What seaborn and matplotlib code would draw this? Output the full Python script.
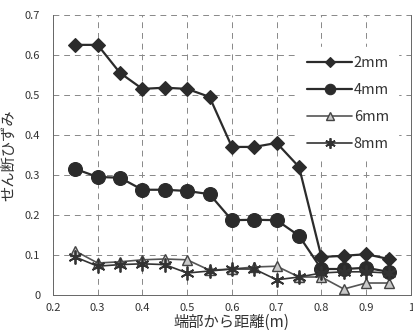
import matplotlib
matplotlib.use("Agg")
import matplotlib.pyplot as plt
import seaborn as sns
import pandas as pd

x = [0.25, 0.3, 0.35, 0.4, 0.45, 0.5, 0.55, 0.6, 0.65, 0.7, 0.75, 0.8, 0.85, 0.9, 0.95]
s2 = [0.625, 0.625, 0.555, 0.515, 0.518, 0.515, 0.495, 0.370, 0.370, 0.380, 0.320, 0.095, 0.098, 0.102, 0.090]
s4 = [0.315, 0.295, 0.293, 0.263, 0.263, 0.260, 0.252, 0.187, 0.188, 0.187, 0.148, 0.065, 0.065, 0.068, 0.058]
s6 = [0.110, 0.080, 0.083, 0.088, 0.090, 0.088, 0.062, 0.065, 0.070, 0.072, 0.045, 0.045, 0.015, 0.030, 0.030]
s8 = [0.095, 0.072, 0.076, 0.078, 0.076, 0.055, 0.060, 0.065, 0.065, 0.038, 0.045, 0.055, 0.058, 0.058, 0.055]
labels = ["2mm", "4mm", "6mm", "8mm"]
xticks = [0.2, 0.3, 0.4, 0.5, 0.6, 0.7, 0.8, 0.9, 1.0]
xticklabels = ["0.2", "0.3", "0.4", "0.5", "0.6", "0.7", "0.8", "0.9", "1"]
yticks = [0, 0.1, 0.2, 0.3, 0.4, 0.5, 0.6, 0.7]
yticklabels = ["0", "0.1", "0.2", "0.3", "0.4", "0.5", "0.6", "0.7"]

sns.set_style("white")
plt.rcParams['font.family'] = ['Liberation Sans Narrow', 'Noto Sans CJK JP', 'DejaVu Sans']

fig = plt.figure(figsize=(4.13, 3.30), dpi=100)
ax = fig.add_axes([0.128, 0.106, 0.867, 0.849])

styles = [
    dict(marker='D', markersize=7, color='#2b2b2b', lw=1.6, mfc='#2b2b2b', mec='#2b2b2b', mew=0.8),
    dict(marker='o', markersize=10, color='#2b2b2b', lw=1.6, mfc='#2b2b2b', mec='#2b2b2b', mew=0.8),
    dict(marker='^', markersize=7, color='#555555', lw=1.2, mfc='#c8c8c8', mec='#444444', mew=1.0),
    dict(marker=(6, 2, 0), markersize=10, color='#333333', lw=1.2, mfc='#333333', mec='#333333', mew=1.3),
]
series = [s2, s4, s6, s8]
for lab, ys, st in zip(labels, series, styles):
    df = pd.DataFrame({"x": x, "y": ys})
    sns.lineplot(data=df, x="x", y="y", ax=ax, label=lab, color=st['color'],
                 linewidth=st['lw'], marker=st['marker'], markersize=st['markersize'],
                 markerfacecolor=st['mfc'], markeredgecolor=st['mec'],
                 markeredgewidth=st['mew'], zorder=3)

ax.set_xlim(0.2, 1.0)
ax.set_ylim(0, 0.7)
ax.set_xticks(xticks)
ax.set_xticklabels(xticklabels)
ax.set_yticks(yticks)
ax.set_yticklabels(yticklabels)
ax.tick_params(axis='both', labelsize=8, colors='#333333', length=3, width=0.6)
ax.tick_params(axis='x', direction='in', pad=6)
ax.tick_params(axis='y', direction='out', pad=6)
ax.grid(True, linestyle=(0, (6, 5)), color='#888888', linewidth=0.7)
ax.set_axisbelow(True)
for side in ['left', 'bottom', 'right']:
    ax.spines[side].set_color('#666666')
    ax.spines[side].set_linewidth(0.7)
ax.spines['top'].set_visible(False)

ax.set_xlabel("端部から距離(m)", fontsize=11, color='#333333',
              family=['Noto Sans CJK JP', 'DejaVu Sans'], labelpad=0)
ax.set_ylabel("せん断ひずみ", fontsize=11, color='#333333',
              family=['Noto Sans CJK JP', 'DejaVu Sans'], labelpad=6)

leg = ax.legend(loc='upper left', bbox_to_anchor=(0.665, 0.91), frameon=True,
                handlelength=3.1, handletextpad=0.1, labelspacing=0.9,
                fontsize=10.5, borderpad=0.6, markerscale=0.75)
leg.get_frame().set_facecolor('white')
leg.get_frame().set_edgecolor('white')
leg.get_frame().set_alpha(1.0)
leg.set_zorder(2.5)
for t in leg.get_texts():
    t.set_color('#333333')

fig.savefig("out.png", dpi=100)
